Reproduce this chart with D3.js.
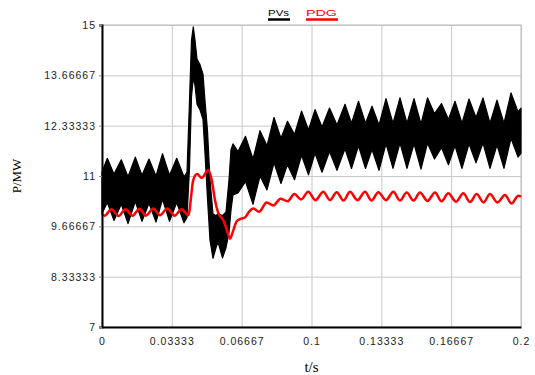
<!DOCTYPE html>
<html>
<head>
<meta charset="utf-8">
<script src="https://cdn.jsdelivr.net/npm/d3@7"></script>
<style>
  html, body { margin: 0; padding: 0; background: #fff; }
  .tick text { font-family: "Liberation Sans", Arial, sans-serif; font-size: 10.5px; fill: #222; letter-spacing: 1px; }
  .axisTitle { font-family: "Liberation Serif", "Times New Roman", serif; fill: #000; }
</style>
</head>
<body>
<div id="chart"></div>
<script>
// time of each sample (ms) at peaks / troughs of the ripple
const pvTimeMs = [0, 2.53, 5.73, 9.21, 12.41, 15.90, 19.09, 22.43, 25.78, 28.88, 32.22, 35.66, 39.14,
  40.57, 41.77, 42.72, 43.58, 44.39, 45.35, 46.78, 48.21, 49.16, 50.36, 51.55, 52.98, 54.42, 55.37,
  57.52, 59.19, 60.62, 61.58, 62.53, 64.92, 68.50, 72.08, 75.42, 78.76, 82.10, 85.44, 88.54, 91.89,
  95.23, 98.57, 101.67, 105.01, 108.59, 112.17, 115.99, 119.09, 122.43, 125.77, 128.88, 132.22,
  135.56, 138.90, 142.24, 145.58, 148.93, 152.27, 155.37, 158.71, 162.05, 165.39, 168.50, 171.84,
  175.18, 178.52, 181.86, 185.20, 188.54, 191.88, 195.23, 198.57, 200];
// upper / lower edge of the thick PVs band (MW)
const pvUpper = [11.1, 11.47, 11.05, 11.43, 10.98, 11.5, 11.02, 11.45, 11.0, 11.59, 11.02, 11.47, 10.98,
  11.1, 13.0, 14.6, 14.95, 14.6, 14.1, 13.95, 13.7, 13.0, 12.2, 10.9, 10.0, 9.95, 10.0,
  9.95, 10.05, 10.9, 11.7, 11.85, 11.65, 12.05, 11.45, 12.2, 11.8, 12.55, 12.0, 12.45, 12.1,
  12.72, 12.22, 12.76, 12.3, 12.8, 12.35, 12.9, 12.4, 12.98, 12.4, 12.85, 12.35,
  13.05, 12.4, 13.07, 12.4, 13.05, 12.38, 13.07, 12.65, 12.92, 12.5, 12.98, 12.4,
  13.04, 12.55, 13.07, 12.4, 13.01, 12.4, 13.2, 12.7, 12.8];
const pvLower = [10.0, 10.3, 9.82, 10.25, 9.74, 10.32, 9.8, 10.28, 9.78, 10.38, 9.8, 10.3, 9.76,
  9.9, 11.2, 13.1, 13.6, 13.4, 12.9, 12.75, 12.5, 11.6, 10.4, 9.3, 8.82, 9.1, 9.25,
  8.83, 9.1, 9.5, 10.1, 10.5, 10.55, 10.85, 10.25, 11.0, 10.63, 11.35, 10.8, 11.3, 10.9,
  11.55, 11.03, 11.6, 11.1, 11.65, 11.15, 11.72, 11.2, 11.8, 11.2, 11.7, 11.15,
  11.85, 11.2, 11.87, 11.2, 11.85, 11.18, 11.87, 11.45, 11.75, 11.3, 11.8, 11.2,
  11.85, 11.35, 11.87, 11.2, 11.82, 11.2, 12.0, 11.5, 11.6];

const pdgTimeMs = [0, 1.19, 4.53, 7.88, 11.22, 14.56, 17.90, 21.00, 24.49, 27.68, 31.17, 34.61, 38.04,
  41.19, 43.58, 45.35, 47.59, 50.74, 52.36, 53.94, 55.51, 57.90, 59.52, 61.10, 62.67, 64.30,
  66.35, 68.26, 70.17, 72.22, 74.94, 78.62, 81.86, 85.20, 88.54, 91.84, 94.99, 98.47, 101.91,
  105.63, 108.83, 112.03, 115.28, 118.38, 121.96, 125.54, 128.64, 131.89, 135.56, 139.05,
  142.24, 145.44, 148.69, 151.79, 155.37, 158.95, 162.05, 165.30, 168.97, 172.46, 175.66,
  178.85, 182.11, 185.20, 188.78, 192.36, 195.46, 198.71, 200];
const pdgValue = [10.0, 9.95, 10.12, 9.94, 10.12, 9.95, 10.13, 9.95, 10.14, 9.96, 10.14, 9.95, 10.12,
  9.96, 10.9, 11.05, 10.95, 11.16, 10.9, 10.36, 10.02, 9.83, 9.58, 9.34, 9.56, 9.8,
  9.87, 9.9, 10.05, 10.14, 10.05, 10.3, 10.22, 10.4, 10.33, 10.52, 10.38, 10.58, 10.36,
  10.58, 10.36, 10.57, 10.35, 10.58, 10.36, 10.58, 10.35, 10.57, 10.36, 10.58,
  10.35, 10.56, 10.35, 10.56, 10.34, 10.56, 10.33, 10.54, 10.32, 10.54, 10.31,
  10.52, 10.3, 10.52, 10.3, 10.5, 10.27, 10.48, 10.45];

const xTickValues = [0, 0.033333, 0.066667, 0.1, 0.133333, 0.166667, 0.2];
const xTickLabels = ["0", "0.03333", "0.06667", "0.1", "0.13333", "0.16667", "0.2"];
const yTickValues = [7, 8.33333, 9.66667, 11, 12.33333, 13.66667, 15];
const yTickLabels = ["7", "8.33333", "9.66667", "11", "12.33333", "13.66667", "15"];

const width = 535;
const height = 375;
const padding = { top: 25, right: 14, bottom: 48, left: 102 };

const svg = d3.select("#chart")
  .append("svg")
  .attr("width", width)
  .attr("height", height)
  .style("display", "block");

const xscale = d3.scaleLinear()
  .domain([0, 0.2])
  .range([padding.left, width - padding.right]);

const yscale = d3.scaleLinear()
  .domain([7, 15])
  .range([height - padding.bottom, padding.top]);   // reversed

// grid lines
svg.append("g")
  .attr("transform", "translate(0," + (height - padding.bottom) + ")")
  .call(d3.axisBottom(xscale).tickValues(xTickValues)
    .tickSize(-(height - padding.top - padding.bottom)).tickFormat(""))
  .call(g => g.select(".domain").remove())
  .call(g => g.selectAll("line").attr("stroke", "#c8c8c8"));

svg.append("g")
  .attr("transform", "translate(" + padding.left + ",0)")
  .call(d3.axisLeft(yscale).tickValues(yTickValues)
    .tickSize(-(width - padding.left - padding.right)).tickFormat(""))
  .call(g => g.select(".domain").remove())
  .call(g => g.selectAll("line").attr("stroke", "#c8c8c8"));

// top / right frame
svg.append("rect")
  .attr("x", padding.left)
  .attr("y", padding.top)
  .attr("width", width - padding.left - padding.right)
  .attr("height", height - padding.top - padding.bottom)
  .attr("fill", "none")
  .attr("stroke", "#bdbdbd");

// PVs band
const pvData = pvTimeMs.map((t, i) => ({ t: t / 1000, hi: pvUpper[i], lo: pvLower[i] }));
const band = d3.area()
  .x(d => xscale(d.t))
  .y0(d => yscale(d.lo))
  .y1(d => yscale(d.hi));

svg.append("path")
  .datum(pvData)
  .attr("d", band)
  .attr("fill", "#000")
  .attr("stroke", "#000")
  .attr("stroke-width", 1.2)
  .attr("stroke-linejoin", "round");

// PDG line
const pdgData = pdgTimeMs.map((t, i) => ({ t: t / 1000, v: pdgValue[i] }));
const valueline = d3.line()
  .x(d => xscale(d.t))
  .y(d => yscale(d.v))
  .curve(d3.curveMonotoneX);

svg.append("path")
  .datum(pdgData)
  .attr("d", valueline)
  .attr("fill", "none")
  .attr("stroke", "#ff0000")
  .attr("stroke-width", 2.5);

// axes
const xAxis = svg.append("g")
  .attr("transform", "translate(0," + (height - padding.bottom) + ")")
  .call(d3.axisBottom(xscale).tickValues(xTickValues).tickSize(0)
    .tickFormat((d, i) => xTickLabels[i]));
xAxis.select(".domain").attr("stroke", "#000").attr("stroke-width", 2);
xAxis.selectAll("text").attr("y", 11);

const yAxis = svg.append("g")
  .attr("transform", "translate(" + padding.left + ",0)")
  .call(d3.axisLeft(yscale).tickValues(yTickValues).tickSize(3).tickPadding(3)
    .tickFormat((d, i) => yTickLabels[i]));
yAxis.select(".domain").attr("stroke", "#000").attr("stroke-width", 2);
yAxis.selectAll("line").attr("stroke", "#888");

// axis titles
svg.append("text")
  .attr("class", "axisTitle")
  .attr("x", xscale(0.1))
  .attr("y", 372)
  .attr("text-anchor", "middle")
  .style("font-size", "15px")
  .text("t/s");

svg.append("text")
  .attr("class", "axisTitle")
  .attr("transform", "translate(21," + yscale(11) + ") rotate(-90)")
  .attr("text-anchor", "middle")
  .style("font-size", "13px")
  .text("P/MW");

// legend
const legend = [
  { name: "PVs", color: "#000", x: 268, w: 21 },
  { name: "PDG", color: "#ff0000", x: 306, w: 31 }
];
legend.forEach(l => {
  svg.append("text")
    .attr("x", l.x)
    .attr("y", 16)
    .attr("fill", l.color)
    .attr("textLength", l.w)
    .attr("lengthAdjust", "spacingAndGlyphs")
    .style("font-family", "Liberation Sans, Arial, sans-serif")
    .style("font-size", "9.5px")
    .text(l.name);
  svg.append("line")
    .attr("x1", l.x).attr("x2", l.x + l.w + 1)
    .attr("y1", 19.5).attr("y2", 19.5)
    .attr("stroke", l.color)
    .attr("stroke-width", 2.5);
});
</script>
</body>
</html>
